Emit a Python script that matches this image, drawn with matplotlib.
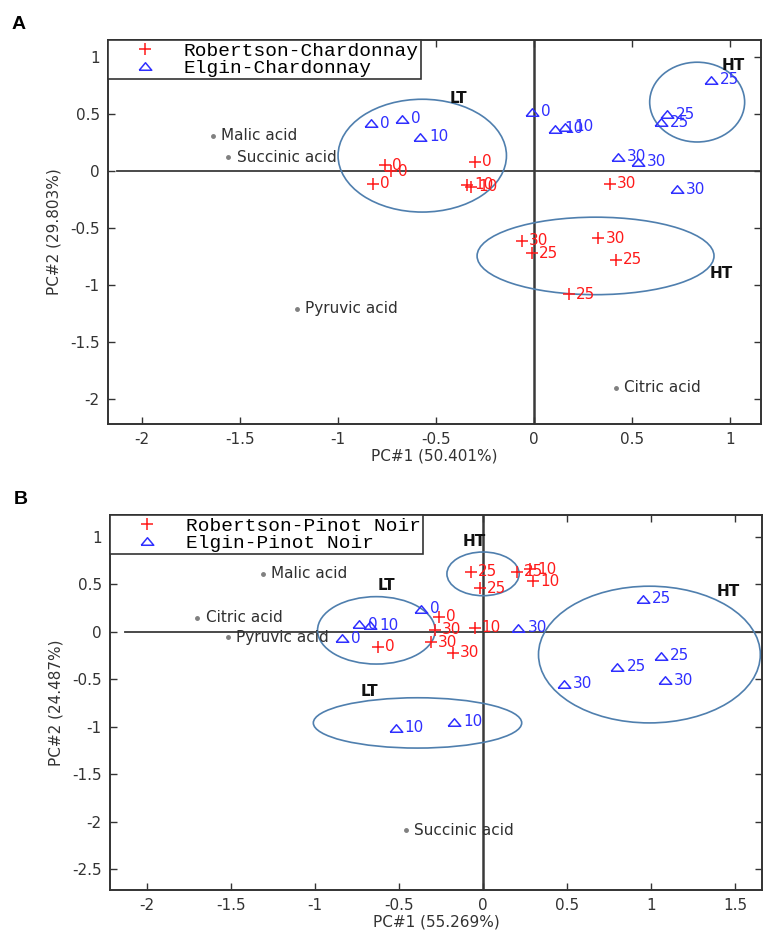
import matplotlib
matplotlib.use("Agg")
import matplotlib.pyplot as plt
from matplotlib.patches import Ellipse
from matplotlib.ticker import FuncFormatter, MultipleLocator

plt.rcParams['font.family'] = ['DejaVu Sans']
plt.rcParams['axes.unicode_minus'] = False

RED = "#ff1a1a"
BLUE = "#2f2fff"
RING = "#4f7fae"
TRI = [(-1, -0.6), (1, -0.6), (0, 0.6), (-1, -0.6)]

# ---- panel A: Chardonnay
rob_ch_x = [-0.76, -0.73, -0.82, -0.30, -0.34, -0.32, 0.39, -0.06, 0.33, -0.01, 0.42, 0.18]
rob_ch_y = [0.05, 0.00, -0.11, 0.08, -0.12, -0.14, -0.11, -0.61, -0.59, -0.72, -0.78, -1.08]
rob_ch_lab = ["0", "0", "0", "0", "10", "10", "30", "30", "30", "25", "25", "25"]

elg_ch_x = [-0.83, -0.675, -0.58, -0.01, 0.11, 0.16, 0.43, 0.53, 0.73, 0.68, 0.65, 0.905]
elg_ch_y = [0.42, 0.46, 0.30, 0.52, 0.37, 0.39, 0.125, 0.08, -0.16, 0.50, 0.43, 0.80]
elg_ch_lab = ["0", "0", "10", "0", "10", "10", "30", "30", "30", "25", "25", "25"]

acid_ch = ["Malic acid", "Succinic acid", "Pyruvic acid", "Citric acid"]
acid_ch_x = [-1.64, -1.56, -1.21, 0.42]
acid_ch_y = [0.31, 0.12, -1.21, -1.90]

# ellipses: centre x, centre y, width, height
ring_ch = [(-0.57, 0.135, 0.86, 0.99), (0.834, 0.605, 0.485, 0.70), (0.315, -0.745, 1.21, 0.68)]
tag_ch = ["LT", "HT", "HT"]
tag_ch_x = [-0.43, 0.96, 0.90]
tag_ch_y = [0.64, 0.93, -0.90]

# ---- panel B: Pinot Noir
rob_pn_x = [-0.07, -0.02, 0.20, 0.28, 0.30, -0.05, -0.26, -0.625, -0.285, -0.31, -0.18]
rob_pn_y = [0.63, 0.46, 0.63, 0.66, 0.53, 0.04, 0.16, -0.16, 0.02, -0.11, -0.22]
rob_pn_lab = ["25", "25", "25", "10", "10", "10", "0", "0", "30", "30", "30"]

elg_pn_x = [-0.37, -0.74, -0.67, -0.84, 0.21, -0.52, -0.17, 0.95, 1.06, 0.80, 0.48, 1.08]
elg_pn_y = [0.24, 0.08, 0.07, -0.07, 0.04, -1.01, -0.95, 0.35, -0.25, -0.37, -0.55, -0.51]
elg_pn_lab = ["0", "0", "10", "0", "30", "10", "10", "25", "25", "25", "30", "30"]

acid_pn = ["Malic acid", "Citric acid", "Pyruvic acid", "Succinic acid"]
acid_pn_x = [-1.31, -1.70, -1.52, -0.46]
acid_pn_y = [0.61, 0.15, -0.06, -2.09]

ring_pn = [(-0.635, 0.015, 0.70, 0.71), (-0.39, -0.96, 1.24, 0.53), (0.0, 0.61, 0.43, 0.46), (0.99, -0.24, 1.32, 1.44)]
tag_pn = ["LT", "LT", "HT", "HT"]
tag_pn_x = [-0.63, -0.73, -0.12, 1.39]
tag_pn_y = [0.49, -0.63, 0.95, 0.42]


def draw_panel(ax, rx, ry, rlab, ex, ey, elab, acids, ax_, ay_, rings, tags, tx, ty,
               names, xlim, ylim, xlab, ylab, letter):
    ax.set_xlim(*xlim)
    ax.set_ylim(*ylim)
    ax.plot([-2.13, xlim[1]], [0, 0], color="#3a3a3a", lw=1.3, zorder=1)
    ax.axvline(0, color="#3a3a3a", lw=1.8, zorder=1)
    for cx, cy, w, h in rings:
        ax.add_patch(Ellipse((cx, cy), w, h, fill=False, edgecolor=RING, lw=1.2, zorder=2))
    for t, x, y in zip(tags, tx, ty):
        ax.text(x, y, t, fontsize=11, fontweight="bold", color="#111111", va="center", ha="left")
    ax.plot(ax_, ay_, ".", color="#808080", ms=5, zorder=3)
    for a, x, y in zip(acids, ax_, ay_):
        ax.annotate(a, (x, y), xytext=(6, 0), textcoords="offset points",
                    fontsize=11, color="#303030", va="center")
    h1, = ax.plot(rx, ry, "+", color=RED, ms=8, mew=1.1, ls="none", zorder=4, label=names[0])
    h2, = ax.plot(ex, ey, marker=TRI, color=BLUE, mfc="none", ms=9, mew=1.1, ls="none",
                  zorder=4, label=names[1])
    for lab, x, y in zip(rlab, rx, ry):
        ax.annotate(lab, (x, y), xytext=(5, 0), textcoords="offset points",
                    fontsize=11, color=RED, va="center")
    for lab, x, y in zip(elab, ex, ey):
        ax.annotate(lab, (x, y), xytext=(6.5, 0), textcoords="offset points",
                    fontsize=11, color=BLUE, va="center")
    leg = ax.legend(handles=[h1, h2], loc="upper left", bbox_to_anchor=(0, 1),
                    borderaxespad=0, fancybox=False, framealpha=1, numpoints=1,
                    prop={"family": "Liberation Mono", "size": 14},
                    borderpad=0.1, labelspacing=0.0, handlelength=3.6, handletextpad=0.2)
    leg.get_frame().set_edgecolor("#333333")
    leg.get_frame().set_linewidth(1.2)
    ax.xaxis.set_major_locator(MultipleLocator(0.5))
    ax.yaxis.set_major_locator(MultipleLocator(0.5))
    fmt = FuncFormatter(lambda v, p: "%g" % round(v, 2))
    ax.xaxis.set_major_formatter(fmt)
    ax.yaxis.set_major_formatter(fmt)
    ax.tick_params(direction="in", length=5, width=1, top=True, right=True,
                   labelsize=11, colors="#333333", pad=6)
    for s in ax.spines.values():
        s.set_color("#333333")
        s.set_linewidth(1.4)
    ax.set_xlabel(xlab, fontsize=11, color="#333333", labelpad=1)
    ax.set_ylabel(ylab, fontsize=11, color="#333333", labelpad=6)
    ax.text(-0.148, 1.04, letter, transform=ax.transAxes, fontsize=14,
            fontweight="bold", family="Liberation Sans", va="center")


fig = plt.figure(figsize=(7.63, 9.32), dpi=100)
axA = fig.add_axes([108 / 763, 1 - 424 / 932, (761 - 108) / 763, (424 - 40) / 932])
axB = fig.add_axes([110 / 763, 1 - 890 / 932, (762 - 110) / 763, (890 - 515) / 932])

draw_panel(axA, rob_ch_x, rob_ch_y, rob_ch_lab, elg_ch_x, elg_ch_y, elg_ch_lab,
           acid_ch, acid_ch_x, acid_ch_y, ring_ch, tag_ch, tag_ch_x, tag_ch_y,
           ["Robertson-Chardonnay", "Elgin-Chardonnay"], (-2.175, 1.16), (-2.22, 1.15),
           "PC#1 (50.401%)", "PC#2 (29.803%)", "A")
draw_panel(axB, rob_pn_x, rob_pn_y, rob_pn_lab, elg_pn_x, elg_pn_y, elg_pn_lab,
           acid_pn, acid_pn_x, acid_pn_y, ring_pn, tag_pn, tag_pn_x, tag_pn_y,
           ["Robertson-Pinot Noir", "Elgin-Pinot Noir"], (-2.22, 1.66), (-2.72, 1.23),
           "PC#1 (55.269%)", "PC#2 (24.487%)", "B")

fig.savefig("out.png", dpi=100)
